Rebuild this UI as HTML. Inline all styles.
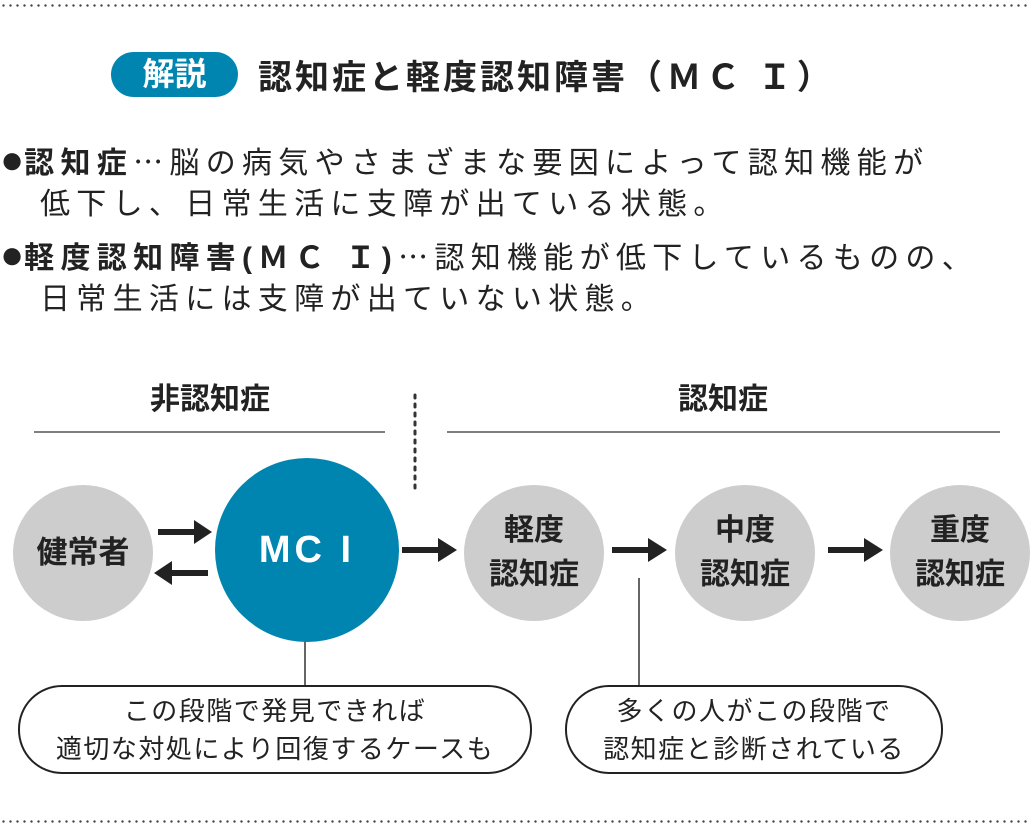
<!DOCTYPE html>
<html><head><meta charset="utf-8"><style>
body{margin:0;width:1030px;height:832px;background:#fff;position:relative;overflow:hidden;font-family:"Liberation Sans","Noto Sans CJK JP",sans-serif;color:#222}
.a{position:absolute;white-space:nowrap}
.j{font-family:"Noto Sans CJK JP",sans-serif}
.dot{position:absolute;left:0;width:1030px;height:3px;background:radial-gradient(circle,#444 1px,transparent 1.4px) 0 0/7px 3px repeat-x}
.c{position:absolute;border-radius:50%;background:#cdcdcd;display:flex;align-items:center;justify-content:center;text-align:center;font-weight:bold;font-size:30px;line-height:44px}
.box{position:absolute;border:2px solid #222;border-radius:44px;text-align:center;font-size:26px;letter-spacing:1.5px;line-height:38px;box-sizing:border-box;padding-top:5px}
.t{font-size:30px;line-height:44px;letter-spacing:6.3px}
.b{font-size:40px;letter-spacing:0;line-height:30px}
</style></head><body>
<div class="dot" style="top:4px"></div>
<div class="dot" style="top:820px"></div>
<div class="a" style="left:111px;top:52px;width:127px;height:45px;border-radius:23px;background:#0085b0;color:#fff;font-weight:bold;font-size:32px;line-height:45px;text-align:center">解説</div>
<div class="a" style="left:258px;top:52px;font-weight:bold;font-size:34px;letter-spacing:3px;line-height:45px">認知症と軽度認知障害<span class="j" style="letter-spacing:5px">（ＭＣ Ｉ）</span></div>
<div class="a t" style="left:0px;top:138px"><b><span class="b">●</span>認知症</b><span class="j">…</span>脳の病気やさまざまな要因によって認知機能が</div>
<div class="a t" style="left:40px;top:183px">低下し、日常生活に支障が出ている状態。</div>
<div class="a t" style="left:0px;top:233px"><b><span class="b">●</span>軽度認知障害(ＭＣ Ｉ)</b><span class="j">…</span>認知機能が低下しているものの、</div>
<div class="a t" style="left:40px;top:278px">日常生活には支障が出ていない状態。</div>
<div class="a" style="left:130px;top:380px;width:160px;text-align:center;font-weight:bold;font-size:30px;line-height:40px">非認知症</div>
<div class="a" style="left:643px;top:380px;width:160px;text-align:center;font-weight:bold;font-size:30px;line-height:40px">認知症</div>
<svg class="a" style="left:0;top:0" width="1030" height="832">
<line x1="34" y1="432" x2="385" y2="432" stroke="#555" stroke-width="1.5"/>
<line x1="447" y1="432" x2="1000" y2="432" stroke="#555" stroke-width="1.5"/>
<line x1="415" y1="395" x2="415" y2="493" stroke="#333" stroke-width="3" stroke-dasharray="3 6" stroke-linecap="round"/>
<line x1="305" y1="628" x2="305" y2="686" stroke="#333" stroke-width="1.5"/>
<line x1="639" y1="578" x2="639" y2="686" stroke="#333" stroke-width="1.5"/>
<g fill="#222">
<rect x="158" y="529" width="38" height="6"/><polygon points="194,520 212,532 194,544"/>
<rect x="170" y="570" width="38" height="6"/><polygon points="172,561 154,573 172,585"/>
<rect x="402" y="547" width="38" height="6"/><polygon points="438,538 457,550 438,562"/>
<rect x="612" y="547" width="38" height="6"/><polygon points="648,538 667,550 648,562"/>
<rect x="828" y="547" width="38" height="6"/><polygon points="864,538 883,550 864,562"/>
</g>
</svg>
<div class="c" style="left:13px;top:485px;width:140px;height:136px;font-size:31px">健常者</div>
<div class="c" style="left:215px;top:458px;width:184px;height:184px;background:#0085b0;color:#fff;font-size:38px;letter-spacing:4px">MC I</div>
<div class="c" style="left:464px;top:485px;width:140px;height:136px">軽度<br>認知症</div>
<div class="c" style="left:675px;top:485px;width:140px;height:136px">中度<br>認知症</div>
<div class="c" style="left:890px;top:485px;width:140px;height:136px">重度<br>認知症</div>
<div class="box" style="left:18px;top:685px;width:514px;height:89px">この段階で発見できれば<br>適切な対処により回復するケースも</div>
<div class="box" style="left:565px;top:685px;width:378px;height:89px">多くの人がこの段階で<br>認知症と診断されている</div>
</body></html>
